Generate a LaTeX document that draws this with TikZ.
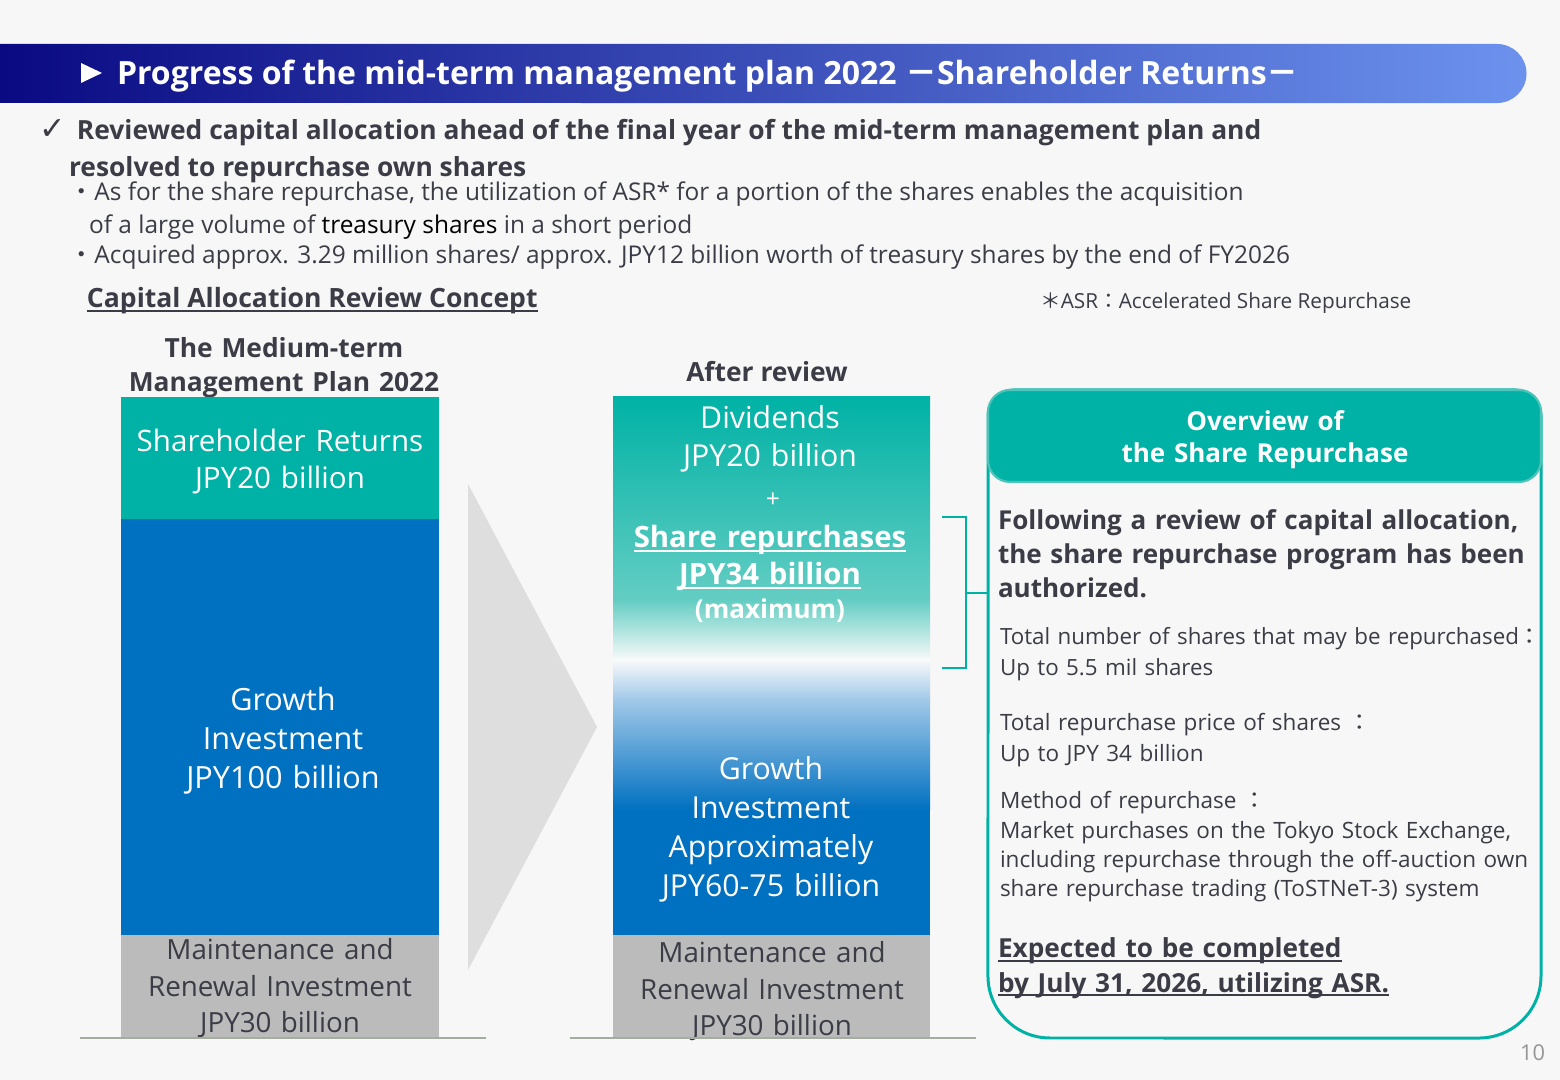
\documentclass[tikz,border=0pt]{standalone}
\usepackage{fontspec}
\setmainfont{Open Sans}
\newfontfamily\cjkfont{Noto Sans CJK JP}
\newfontfamily\symfont{DejaVu Sans}
\usetikzlibrary{calc}

\definecolor{inkgray}{RGB}{59,60,70}
\definecolor{tealA}{RGB}{0,178,165}
\definecolor{tealB}{RGB}{80,196,187}
\definecolor{mintA}{RGB}{100,205,195}
\definecolor{paleA}{RGB}{248,250,250}
\definecolor{skyA}{RGB}{160,200,232}
\definecolor{blueA}{RGB}{0,112,192}
\definecolor{grayA}{RGB}{187,187,187}
\definecolor{pagebg}{RGB}{247,247,247}
\definecolor{navyL}{RGB}{10,10,130}
\definecolor{navyR}{RGB}{108,146,238}
\definecolor{chevgray}{RGB}{222,222,222}
\definecolor{baseln}{RGB}{165,172,160}
\definecolor{pagenum}{RGB}{150,150,150}

\newcommand{\fs}[2]{\fontsize{#1pt}{#2pt}\selectfont}
\newcommand{\uln}[1]{\leavevmode\setbox0=\hbox{#1}\rlap{\rule[-1.2pt]{\wd0}{0.55pt}}\box0}

\begin{document}
\begin{tikzpicture}[x=0.01cm, y=-0.01cm,
  txt/.style={inner sep=0pt, outer sep=0pt},
  lefttxt/.style={txt, anchor=base west, text width=6cm, align=left},
  bartxt/.style={txt, anchor=base, text width=3.3cm, align=center}]
\fill[pagebg] (0,0) rectangle (1560,1080);
\useasboundingbox (0,0) rectangle (1560,1080);

% title banner
\shade[left color=navyL, right color=navyR] (0,44) -- (1497,44)
  arc[start angle=90, end angle=-90, radius=0.295cm] -- (0,103) -- cycle;
\fill[white] (81,63) -- (102,73) -- (81,83) -- cycle;
\node[txt, anchor=base west, text=white, font=\bfseries\fs{9.1}{10}] (title) at (117,85)
  {Progress of the mid-term management plan 2022 {\cjkfont －}Shareholder Returns{\cjkfont －}};

% summary
\node[txt, anchor=base west, text=inkgray, font=\symfont\bfseries\fs{9}{10}] (tick) at (40,140) {✓};
\node[txt, anchor=base west, text=inkgray, font=\bfseries\fs{7.5}{10}] (sum1) at (77,140)
  {Reviewed capital allocation ahead of the final year of the mid-term management plan and};
\node[txt, anchor=base west, text=inkgray, font=\bfseries\fs{7.5}{10}] (sum2) at (69,177)
  {resolved to repurchase own shares};
\node[txt, anchor=base west, text=inkgray, font=\fs{6.95}{9}] (bul1) at (70,201)
  {{\cjkfont ・}As for the share repurchase, the utilization of ASR* for a portion of the shares enables the acquisition};
\node[txt, anchor=base west, text=inkgray, font=\fs{6.95}{9}] (bul1b) at (89,234)
  {of a large volume of {\color{black}treasury shares} in a short period};
\node[txt, anchor=base west, text=inkgray, font=\fs{6.95}{9}] (bul2) at (70,264)
  {{\cjkfont ・}Acquired approx. 3.29 million shares/ approx. JPY12 billion worth of treasury shares by the end of FY2026};
\node[txt, anchor=base west, text=inkgray, font=\bfseries\fs{7.55}{10}] (concept) at (87,308)
  {\uln{Capital Allocation Review Concept}};
\node[txt, anchor=base west, text=inkgray, font=\fs{5.9}{7}] (asrnote) at (1040,309)
  {{\cjkfont ＊}ASR{\cjkfont ：}Accelerated Share Repurchase};

% column headings
\node[bartxt, text width=4.5cm, text=inkgray, font=\bfseries\fs{7.5}{9.4}] (planhead) at (284,358)
  {The Medium-term\\Management Plan 2022};
\node[txt, anchor=base, text=inkgray, font=\bfseries\fs{7.5}{9.4}] (afterhead) at (767,382) {After review};

% plan bar
\fill[tealA] (121,397) rectangle (439,519);
\fill[blueA] (121,519) rectangle (439,935);
\fill[grayA] (121,935) rectangle (439,1037);
\node[bartxt, text=white, font=\fs{8.4}{10.5}] (planret) at (280,452) {Shareholder Returns\\JPY20 billion};
\node[bartxt, text=white, font=\fs{8.7}{11}] (plangrow) at (283,711) {Growth\\Investment\\JPY100 billion};
\node[bartxt, text=inkgray, font=\fs{7.9}{10.3}] (planmaint) at (280,960) {Maintenance and\\Renewal Investment\\JPY30 billion};
\draw[baseln, line width=0.6pt] (80,1038) -- (486,1038);

% chevron
\fill[chevgray] (468,484) -- (597,727) -- (468,970) -- cycle;

% reviewed bar
\shade[top color=tealA, bottom color=mintA] (613,397) rectangle (930,600);
\shade[top color=mintA, bottom color=paleA] (613,600) rectangle (930,660);
\shade[top color=paleA, bottom color=skyA] (613,660) rectangle (930,700);
\shade[top color=skyA, bottom color=blueA] (613,700) rectangle (930,810);
\fill[blueA] (613,810) rectangle (930,935);
\fill[grayA] (613,935) rectangle (930,1037);
\node[bartxt, text=white, font=\fs{8.6}{10.8}] (divid) at (770,429) {Dividends\\JPY20 billion};
\node[txt, anchor=base, text=white, font=\fs{7}{8}] (plus) at (773,508) {+};
\node[bartxt, text=white, font=\bfseries\fs{8.35}{10.5}] (buyback) at (770,548)
  {\uln{Share repurchases}\\\uln{JPY34 billion}};
\node[txt, anchor=base, text=white, font=\bfseries\fs{7.4}{9}] (maxim) at (770,619) {(maximum)};
\node[bartxt, text=white, font=\fs{8.6}{11}] (revgrow) at (771,780)
  {Growth\\Investment\\Approximately\\JPY60-75 billion};
\node[bartxt, text=inkgray, font=\fs{7.9}{10.3}] (revmaint) at (772,963) {Maintenance and\\Renewal Investment\\JPY30 billion};
\draw[baseln, line width=0.6pt] (570,1038) -- (976,1038);

% overview panel
\draw[tealA, line width=0.85pt] (988,700) -- (988,415)
  arc[start angle=180, end angle=90, radius=0.25cm] -- (1516,390)
  arc[start angle=90, end angle=0, radius=0.25cm] -- (1541,976)
  arc[start angle=0, end angle=-90, radius=0.62cm] -- (1050,1038)
  arc[start angle=270, end angle=180, radius=0.62cm] -- cycle;
\filldraw[fill=tealA, draw=tealB, line width=0.6pt, rounded corners=2.2mm] (988,390) rectangle (1541,482);
\node[bartxt, text width=5cm, text=white, font=\bfseries\fs{7.4}{9.1}] (ovhead) at (1265,431)
  {Overview of\\the Share Repurchase};
\node[lefttxt, text=inkgray, font=\bfseries\fs{7.4}{9.6}] (authz) at (998,530)
  {Following a review of capital allocation,\\the share repurchase program has been\\authorized.};
\node[lefttxt, text=inkgray, font=\fs{6.35}{8.8}] (totnum) at (1000,645)
  {Total number of shares that may be repurchased{\cjkfont ：}\\Up to 5.5 mil shares};
\node[lefttxt, text=inkgray, font=\fs{6.4}{8.8}] (totprice) at (1000,731)
  {Total repurchase price of shares {\cjkfont ：}\\Up to JPY 34 billion};
\node[lefttxt, text=inkgray, font=\fs{6.4}{8.25}] (method) at (1000,809)
  {Method of repurchase {\cjkfont ：}\\Market purchases on the Tokyo Stock Exchange,\\including repurchase through the off-auction own\\share repurchase trading (ToSTNeT-3) system};
\node[lefttxt, text=inkgray, font=\bfseries\fs{7.45}{9.7}] (expect) at (998,958)
  {\uln{Expected to be completed}\\\uln{by July 31, 2026, utilizing ASR.}};

% bracket to panel
\coordinate (brtop) at (942,517);
\coordinate (brbot) at (942,668);
\coordinate (brmid) at (966,593);
\coordinate (panelin) at (988,593);
\draw[tealA, line width=0.7pt] (brtop) -- (966,517) -- (966,668) -- (brbot);
\draw[tealA, line width=0.7pt] (brmid) -- (panelin);

\node[txt, anchor=base east, text=pagenum, font=\fs{6.2}{7}] (pgno) at (1545,1061) {10};
\end{tikzpicture}
\end{document}
